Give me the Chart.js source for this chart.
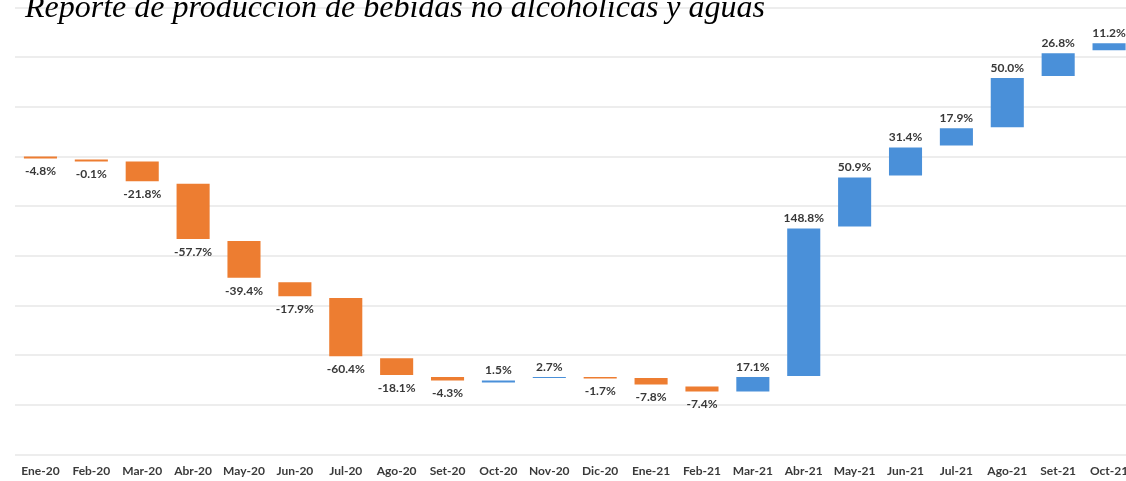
<!DOCTYPE html>
<html>
<head>
<meta charset="utf-8">
<script src="https://cdn.jsdelivr.net/npm/chart.js@4"></script>
<style>
  html, body { margin: 0; padding: 0; background: #fff; overflow: hidden; }
  #wrap { position: absolute; left: 0; top: 0; width: 1140px; height: 487px; }
  #title {
    position: absolute; left: 25px; top: -10px; z-index: 2;
    font: italic 32px/1 "Liberation Serif", "Times New Roman", serif;
    color: #000; white-space: nowrap;
  }
</style>
</head>
<body>
<div id="title">Reporte de producción de bebidas no alcohólicas y aguas</div>
<div id="wrap"><canvas id="wf"></canvas></div>
<script>
// meses
const months = ['Ene-20', 'Feb-20', 'Mar-20', 'Abr-20', 'May-20', 'Jun-20', 'Jul-20', 'Ago-20',
  'Set-20', 'Oct-20', 'Nov-20', 'Dic-20', 'Ene-21', 'Feb-21', 'Mar-21', 'Abr-21', 'May-21',
  'Jun-21', 'Jul-21', 'Ago-21', 'Set-21', 'Oct-21'];

// variación (%) mostrada en cada barra
const pctChange = [-4.8, -0.1, -21.8, -57.7, -39.4, -17.9, -60.4, -18.1, -4.3, 1.5, 2.7, -1.7,
  -7.8, -7.4, 17.1, 148.8, 50.9, 31.4, 17.9, 50.0, 26.8, 11.2];

// inicio y fin de cada barra flotante (unidades del eje)
const barFrom = [60.0, 59.4, 59.0, 54.5, 43.0, 34.7, 31.5, 19.4, 15.6, 14.5, 15.4, 15.6,
  15.4, 13.7, 12.7, 15.8, 45.9, 56.2, 62.2, 65.9, 76.2, 81.4];
const barTo = [59.6, 59.0, 55.0, 43.4, 35.6, 31.9, 19.8, 16.0, 14.9, 14.9, 15.6, 15.3,
  14.1, 12.7, 15.6, 45.5, 55.8, 61.8, 65.7, 75.8, 80.8, 82.8];

const ORANGE = '#ed7d31';
const BLUE = '#4a90d9';
const FONT = 'Lato, "Liberation Sans", sans-serif';

// etiquetas de valor: debajo si baja, encima si sube
const barLabels = {
  id: 'barLabels',
  afterDatasetsDraw(chart) {
    const { ctx } = chart;
    const meta = chart.getDatasetMeta(0);
    ctx.save();
    ctx.font = 'bold 12px ' + FONT;
    ctx.fillStyle = '#383838';
    ctx.textAlign = 'center';
    ctx.textBaseline = 'middle';
    meta.data.forEach((bar, i) => {
      const top = Math.min(bar.y, bar.base);
      const bottom = Math.max(bar.y, bar.base);
      const y = pctChange[i] < 0 ? bottom + 13 : top - 10;
      ctx.fillText(pctChange[i].toFixed(1) + '%', bar.x, y);
    });
    ctx.restore();
  },
};

new Chart(document.getElementById('wf'), {
  type: 'bar',
  data: {
    labels: months,
    datasets: [{
      data: barFrom.map((v, i) => [v, barTo[i]]),
      backgroundColor: pctChange.map(p => p < 0 ? ORANGE : BLUE),
      borderWidth: 0,
      borderSkipped: false,
      barPercentage: 0.65,
      categoryPercentage: 1.0,
    }],
  },
  options: {
    responsive: true, maintainAspectRatio: false, animation: false,
    layout: { padding: { left: 15, right: 5.5, top: 7.5, bottom: 0 } },
    plugins: { legend: { display: false }, tooltip: { enabled: false } },
    scales: {
      x: {
        grid: { display: false, drawTicks: false },
        border: { display: false },
        ticks: {
          autoSkip: false, maxRotation: 0, padding: 9, color: '#3a3a3a',
          font: { family: FONT, size: 12, weight: 'bold' },
        },
      },
      y: {
        min: 0, max: 90,
        ticks: { display: false, stepSize: 10 },
        grid: { color: '#ededed', lineWidth: 2, drawTicks: false },
        border: { display: false },
      },
    },
  },
  plugins: [barLabels],
});
</script>
</body>
</html>
